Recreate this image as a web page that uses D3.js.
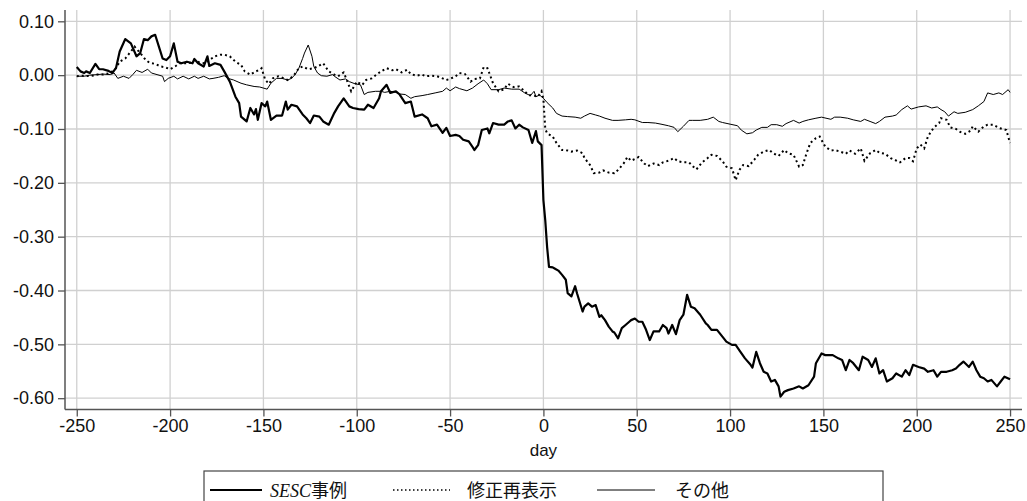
<!DOCTYPE html>
<html>
<head>
<meta charset="utf-8">
<script src="https://cdn.jsdelivr.net/npm/d3@7"></script>
<style>
  html, body { margin: 0; padding: 0; background: #fff; }
  svg { display: block; }
</style>
</head>
<body>
<svg id="chart" width="1027" height="501"></svg>
<script>
// Cumulative abnormal returns around the event day (day 0), three groups.
const xTicks = [-250, -200, -150, -100, -50, 0, 50, 100, 150, 200, 250];
const yTicks = [0.10, 0.00, -0.10, -0.20, -0.30, -0.40, -0.50, -0.60];
const seriesNames = ["SESC事例", "修正再表示", "その他"];

// [day, value]
const sescSeries = [
  [-250,0.015],[-248,0.007],[-246,0.004],[-245,0.007],[-243,0.004],[-240,0.021],[-238,0.011],[-236,0.011],
  [-233,0.008],[-231,0.004],[-229,0.013],[-227,0.044],[-224,0.067],[-221,0.059],[-218,0.035],[-216,0.041],
  [-214,0.067],[-212,0.065],[-210,0.072],[-208,0.075],[-206,0.053],[-204,0.031],[-202,0.028],[-200,0.035],
  [-198,0.059],[-196,0.025],[-194,0.022],[-191,0.025],[-188,0.022],[-187,0.030],[-185,0.022],[-182,0.016],
  [-180,0.035],[-179,0.017],[-176,0.022],[-173,0.019],[-171,0.007],[-168,-0.012],[-165,-0.040],[-163,-0.052],
  [-162,-0.077],[-159,-0.086],[-157,-0.061],[-155,-0.073],[-154,-0.063],[-153,-0.083],[-151,-0.052],[-149,-0.058],
  [-148,-0.049],[-146,-0.083],[-143,-0.075],[-140,-0.075],[-138,-0.049],[-137,-0.064],[-135,-0.055],[-132,-0.058],
  [-129,-0.073],[-127,-0.080],[-125,-0.089],[-123,-0.075],[-120,-0.077],[-118,-0.086],[-115,-0.092],[-112,-0.070],
  [-110,-0.058],[-107,-0.043],[-104,-0.058],[-102,-0.061],[-99,-0.063],[-96,-0.064],[-94,-0.055],[-91,-0.061],
  [-88,-0.043],[-87,-0.030],[-84,-0.018],[-82,-0.033],[-79,-0.030],[-77,-0.036],[-74,-0.052],[-71,-0.049],
  [-69,-0.077],[-65,-0.073],[-62,-0.080],[-60,-0.095],[-57,-0.092],[-54,-0.107],[-52,-0.098],[-50,-0.113],
  [-47,-0.111],[-45,-0.113],[-43,-0.120],[-40,-0.123],[-38,-0.133],[-37,-0.139],[-35,-0.130],[-33,-0.102],
  [-30,-0.099],[-29,-0.108],[-27,-0.089],[-24,-0.092],[-21,-0.092],[-19,-0.086],[-17,-0.084],[-15,-0.099],
  [-13,-0.092],[-11,-0.097],[-8,-0.102],[-6,-0.126],[-4,-0.104],[-3,-0.123],[-1,-0.130],[0,-0.232],
  [1,-0.270],[2,-0.320],[3,-0.356],[5,-0.357],[6,-0.359],[8,-0.363],[10,-0.371],[12,-0.380],
  [13,-0.405],[15,-0.411],[17,-0.392],[18,-0.405],[21,-0.439],[22,-0.430],[24,-0.424],[26,-0.430],
  [28,-0.427],[30,-0.449],[31,-0.446],[33,-0.455],[35,-0.467],[37,-0.476],[38,-0.478],[40,-0.489],
  [42,-0.470],[44,-0.464],[46,-0.458],[47,-0.455],[49,-0.452],[51,-0.458],[53,-0.458],[55,-0.473],
  [57,-0.492],[59,-0.476],[62,-0.476],[64,-0.464],[66,-0.470],[67,-0.480],[69,-0.464],[71,-0.481],
  [73,-0.455],[75,-0.445],[77,-0.408],[79,-0.430],[81,-0.433],[84,-0.445],[87,-0.461],[88,-0.464],
  [90,-0.473],[93,-0.473],[96,-0.486],[98,-0.495],[101,-0.501],[103,-0.501],[105,-0.511],[108,-0.526],
  [111,-0.538],[112,-0.543],[114,-0.514],[116,-0.535],[118,-0.551],[120,-0.554],[122,-0.569],[124,-0.566],
  [126,-0.578],[127,-0.597],[129,-0.588],[131,-0.585],[134,-0.582],[137,-0.578],[139,-0.582],[142,-0.576],
  [145,-0.560],[146,-0.535],[149,-0.517],[151,-0.520],[153,-0.520],[155,-0.520],[158,-0.526],[160,-0.529],
  [162,-0.548],[164,-0.529],[166,-0.535],[169,-0.548],[171,-0.523],[174,-0.529],[176,-0.542],[178,-0.526],
  [180,-0.554],[182,-0.548],[184,-0.569],[187,-0.563],[189,-0.554],[192,-0.560],[194,-0.548],[196,-0.557],
  [198,-0.538],[201,-0.542],[204,-0.545],[206,-0.551],[209,-0.548],[211,-0.560],[213,-0.551],[216,-0.551],
  [219,-0.548],[221,-0.545],[223,-0.538],[225,-0.532],[228,-0.542],[230,-0.532],[232,-0.548],[234,-0.560],
  [236,-0.563],[238,-0.569],[240,-0.566],[243,-0.578],[245,-0.569],[247,-0.560],[250,-0.565]
];

const restatementSeries = [
  [-250,-0.002],[-246,-0.001],[-243,-0.002],[-239,0.001],[-236,0.001],[-232,0.004],[-229,0.013],[-227,0.025],
  [-224,0.031],[-221,0.044],[-219,0.053],[-216,0.041],[-213,0.028],[-211,0.023],[-208,0.021],[-205,0.016],
  [-203,0.015],[-200,0.011],[-197,0.017],[-195,0.022],[-192,0.022],[-189,0.023],[-187,0.028],[-184,0.023],
  [-181,0.022],[-179,0.028],[-176,0.035],[-173,0.038],[-171,0.038],[-168,0.035],[-165,0.025],[-162,0.019],
  [-160,0.007],[-157,0.001],[-154,0.007],[-152,0.010],[-151,0.013],[-149,-0.009],[-147,-0.016],[-145,-0.006],
  [-142,-0.002],[-139,-0.006],[-137,-0.009],[-134,-0.002],[-131,0.013],[-129,0.016],[-126,0.011],[-123,0.013],
  [-121,0.016],[-118,0.022],[-115,0.007],[-112,0.001],[-110,-0.002],[-107,0.005],[-105,-0.012],[-103,-0.030],
  [-100,-0.012],[-97,-0.018],[-95,-0.009],[-92,-0.006],[-89,0.002],[-87,0.007],[-84,0.013],[-81,0.009],
  [-79,0.011],[-76,0.005],[-73,0.010],[-71,0.002],[-68,-0.001],[-65,0.001],[-63,-0.002],[-60,-0.001],
  [-57,-0.002],[-54,-0.006],[-52,-0.009],[-50,-0.007],[-47,-0.002],[-45,0.004],[-42,0.002],[-39,-0.012],
  [-37,-0.007],[-34,-0.006],[-32,0.015],[-30,0.013],[-29,0.004],[-27,-0.015],[-24,-0.030],[-21,-0.026],
  [-19,-0.016],[-16,-0.022],[-13,-0.021],[-11,-0.027],[-8,-0.037],[-5,-0.038],[-3,-0.040],[-1,-0.030],
  [0,-0.045],[1,-0.100],[2,-0.108],[5,-0.114],[7,-0.126],[10,-0.139],[13,-0.140],[15,-0.142],
  [18,-0.140],[21,-0.145],[22,-0.154],[25,-0.167],[27,-0.182],[30,-0.181],[32,-0.177],[35,-0.181],
  [38,-0.182],[40,-0.176],[43,-0.164],[45,-0.152],[47,-0.159],[50,-0.154],[51,-0.152],[54,-0.164],
  [56,-0.169],[59,-0.164],[62,-0.167],[64,-0.162],[67,-0.159],[70,-0.154],[72,-0.160],[75,-0.162],
  [78,-0.162],[80,-0.169],[82,-0.175],[85,-0.162],[88,-0.154],[90,-0.148],[93,-0.150],[96,-0.160],
  [98,-0.170],[101,-0.173],[103,-0.195],[105,-0.176],[107,-0.167],[110,-0.169],[113,-0.157],[115,-0.148],
  [118,-0.142],[121,-0.139],[123,-0.145],[126,-0.150],[129,-0.139],[131,-0.145],[134,-0.148],[137,-0.170],
  [139,-0.167],[141,-0.145],[143,-0.126],[146,-0.117],[148,-0.114],[151,-0.133],[154,-0.140],[156,-0.139],
  [159,-0.142],[162,-0.146],[164,-0.140],[167,-0.146],[170,-0.136],[172,-0.159],[175,-0.145],[178,-0.139],
  [180,-0.144],[183,-0.146],[186,-0.154],[188,-0.157],[191,-0.162],[194,-0.154],[196,-0.154],[198,-0.160],
  [200,-0.136],[202,-0.129],[204,-0.136],[206,-0.114],[209,-0.098],[212,-0.089],[213,-0.080],[216,-0.083],
  [218,-0.097],[221,-0.100],[223,-0.105],[226,-0.109],[229,-0.103],[230,-0.095],[233,-0.105],[236,-0.095],
  [238,-0.092],[241,-0.092],[244,-0.098],[246,-0.100],[248,-0.102],[250,-0.126]
];

const otherSeries = [
  [-250,-0.002],[-246,-0.002],[-243,0.000],[-239,0.001],[-236,0.002],[-232,0.001],[-230,0.004],[-228,-0.006],
  [-225,-0.002],[-222,-0.006],[-220,0.001],[-218,0.009],[-215,0.005],[-212,0.011],[-210,0.004],[-207,0.001],
  [-204,-0.002],[-203,-0.012],[-201,-0.006],[-198,-0.002],[-196,-0.007],[-193,-0.002],[-190,-0.007],[-187,-0.002],
  [-185,-0.006],[-182,-0.002],[-179,-0.007],[-177,-0.006],[-174,-0.004],[-171,-0.001],[-169,-0.006],[-166,-0.009],
  [-162,-0.015],[-159,-0.018],[-155,-0.021],[-152,-0.022],[-148,-0.026],[-146,-0.015],[-143,-0.006],[-140,-0.006],
  [-137,-0.009],[-135,-0.006],[-133,0.001],[-131,0.013],[-129,0.031],[-128,0.041],[-126,0.056],[-124,0.035],
  [-123,0.016],[-121,0.004],[-119,-0.001],[-116,-0.002],[-113,0.001],[-112,-0.002],[-109,-0.009],[-106,-0.007],
  [-104,-0.012],[-101,-0.016],[-98,-0.018],[-96,-0.036],[-94,-0.032],[-90,-0.030],[-87,-0.030],[-85,-0.032],
  [-82,-0.030],[-79,-0.032],[-77,-0.035],[-74,-0.036],[-71,-0.043],[-69,-0.040],[-65,-0.038],[-62,-0.036],
  [-58,-0.033],[-54,-0.030],[-52,-0.024],[-50,-0.029],[-47,-0.022],[-45,-0.025],[-41,-0.029],[-38,-0.024],
  [-35,-0.016],[-32,-0.009],[-30,-0.016],[-28,-0.027],[-24,-0.027],[-21,-0.024],[-17,-0.026],[-13,-0.026],
  [-10,-0.033],[-7,-0.038],[-5,-0.030],[-4,-0.040],[-2,-0.037],[0,-0.043],[2,-0.051],[5,-0.061],
  [7,-0.071],[10,-0.076],[13,-0.077],[17,-0.078],[20,-0.080],[22,-0.076],[25,-0.071],[28,-0.074],
  [30,-0.076],[33,-0.080],[37,-0.084],[40,-0.084],[44,-0.083],[47,-0.082],[49,-0.083],[53,-0.088],
  [56,-0.088],[60,-0.089],[63,-0.091],[67,-0.094],[70,-0.097],[72,-0.105],[75,-0.095],[78,-0.084],
  [80,-0.084],[84,-0.084],[88,-0.082],[91,-0.078],[94,-0.086],[96,-0.088],[100,-0.091],[104,-0.094],
  [106,-0.102],[109,-0.109],[112,-0.107],[114,-0.102],[117,-0.097],[120,-0.097],[122,-0.092],[125,-0.092],
  [128,-0.095],[130,-0.090],[134,-0.084],[137,-0.089],[139,-0.086],[142,-0.083],[146,-0.080],[149,-0.078],
  [154,-0.082],[156,-0.078],[159,-0.078],[163,-0.080],[166,-0.083],[170,-0.086],[172,-0.082],[175,-0.086],
  [178,-0.090],[180,-0.086],[183,-0.078],[187,-0.076],[189,-0.074],[192,-0.064],[195,-0.057],[197,-0.063],
  [201,-0.059],[205,-0.057],[208,-0.061],[211,-0.059],[213,-0.064],[215,-0.068],[217,-0.076],[220,-0.068],
  [222,-0.071],[226,-0.069],[230,-0.064],[233,-0.057],[236,-0.049],[238,-0.033],[241,-0.036],[244,-0.033],
  [246,-0.036],[249,-0.027],[250,-0.032]
];

const svg = d3.select("#chart");
const plot = { left: 65, right: 1022, top: 10, bottom: 409.5 };

const x = d3.scaleLinear().domain([-256.3, 256.4]).range([plot.left, plot.right]);
const y = d3.scaleLinear().domain([0.121, -0.621]).range([plot.top, plot.bottom]);

const tickFont = "'Liberation Sans', Arial, sans-serif";

// grid
const grid = svg.append("g");
grid.selectAll("line.v").data(xTicks).join("line")
  .attr("x1", d => x(d)).attr("x2", d => x(d))
  .attr("y1", plot.top).attr("y2", plot.bottom)
  .attr("stroke", "#d0d0d0").attr("stroke-width", 1.3);
grid.selectAll("line.h").data(yTicks).join("line")
  .attr("x1", plot.left).attr("x2", plot.right)
  .attr("y1", d => y(d)).attr("y2", d => y(d))
  .attr("stroke", "#d0d0d0").attr("stroke-width", 1.3);

// axes
const yAxis = d3.axisLeft(y).tickValues(yTicks).tickSize(7).tickPadding(4)
  .tickFormat(d => d.toFixed(2));
const xAxis = d3.axisBottom(x).tickValues(xTicks).tickSize(7).tickPadding(3)
  .tickFormat(d => String(d));

const gy = svg.append("g").attr("transform", `translate(${plot.left},0)`).call(yAxis);
const gx = svg.append("g").attr("transform", `translate(0,${plot.bottom})`).call(xAxis);

[gx, gy].forEach(g => {
  g.select(".domain").remove();
  g.selectAll(".tick line").attr("stroke", "#555").attr("stroke-width", 1.3);
  g.selectAll(".tick text").attr("fill", "#111")
    .style("font-family", tickFont).style("font-size", "18px");
});

// axis lines
svg.append("line").attr("x1", plot.left).attr("x2", plot.left)
  .attr("y1", plot.top).attr("y2", plot.bottom)
  .attr("stroke", "#555").attr("stroke-width", 1.5);
svg.append("line").attr("x1", plot.left).attr("x2", plot.right)
  .attr("y1", plot.bottom).attr("y2", plot.bottom)
  .attr("stroke", "#555").attr("stroke-width", 1.5);

svg.append("text")
  .attr("x", x(0)).attr("y", 456)
  .attr("text-anchor", "middle")
  .style("font-family", tickFont).style("font-size", "17px")
  .attr("fill", "#111")
  .text("day");

// lines
const line = d3.line().x(d => x(d[0])).y(d => y(d[1]));

svg.append("path").datum(otherSeries)
  .attr("d", line).attr("fill", "none")
  .attr("stroke", "#000").attr("stroke-width", 1)
  .attr("stroke-linejoin", "round");

svg.append("path").datum(restatementSeries)
  .attr("d", line).attr("fill", "none")
  .attr("stroke", "#000").attr("stroke-width", 2)
  .attr("stroke-dasharray", "2,3");

svg.append("path").datum(sescSeries)
  .attr("d", line).attr("fill", "none")
  .attr("stroke", "#000").attr("stroke-width", 2.2)
  .attr("stroke-linejoin", "round");

// legend
const legend = svg.append("g");
legend.append("rect")
  .attr("x", 204).attr("y", 471).attr("width", 679).attr("height", 40)
  .attr("fill", "#fff").attr("stroke", "#444").attr("stroke-width", 1.2);

const legendItems = [
  { name: seriesNames[0], x0: 210, x1: 262, tx: 270, width: 2, dash: null },
  { name: seriesNames[1], x0: 393, x1: 450, tx: 467, width: 1.5, dash: "1.5,2.5" },
  { name: seriesNames[2], x0: 597, x1: 655, tx: 675, width: 1, dash: null }
];
const cjkFont = "'Noto Sans CJK JP', 'Noto Sans CJK SC', sans-serif";

legendItems.forEach((it, i) => {
  const ln = legend.append("line")
    .attr("x1", it.x0).attr("x2", it.x1).attr("y1", 490).attr("y2", 490)
    .attr("stroke", "#000").attr("stroke-width", it.width);
  if (it.dash) ln.attr("stroke-dasharray", it.dash);
  const t = legend.append("text").attr("x", it.tx).attr("y", 497)
    .attr("fill", "#111").style("font-size", "18px").style("font-family", cjkFont);
  if (i === 0) {
    t.append("tspan").style("font-family", "'Liberation Serif', 'DejaVu Serif', serif")
      .style("font-style", "italic").text(it.name.slice(0, 4));
    t.append("tspan").text(it.name.slice(4));
  } else {
    t.text(it.name);
  }
});
</script>
</body>
</html>
